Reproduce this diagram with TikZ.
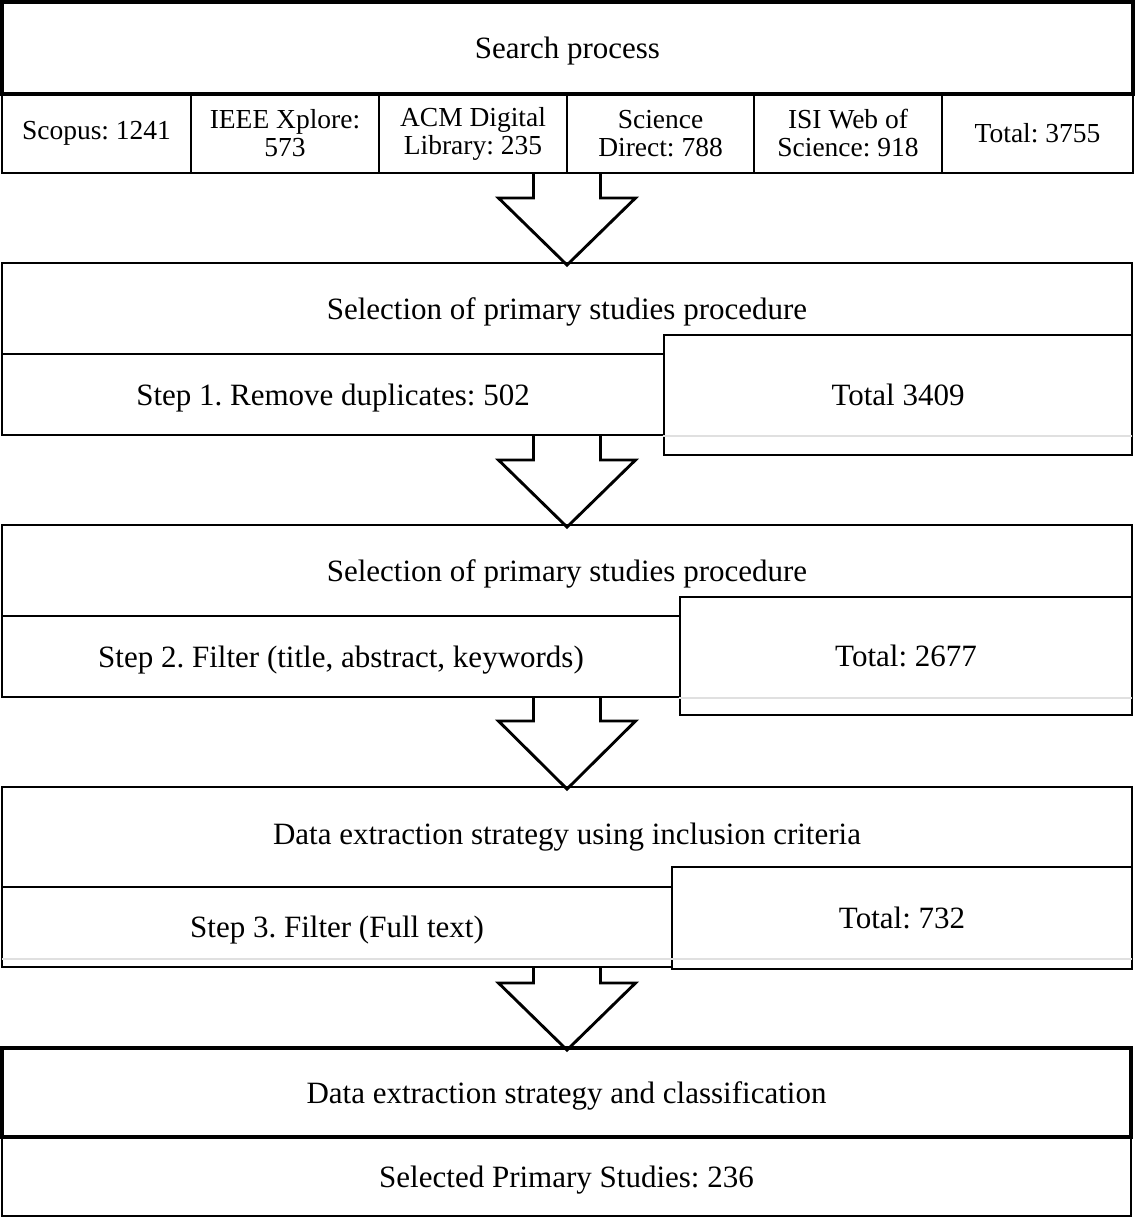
\documentclass[tikz,border=0pt]{standalone}
\usepackage{fontspec}
\setmainfont{Liberation Serif}
\usetikzlibrary{calc}
\frenchspacing
\newcommand{\mybig}{\fontsize{31}{34}\selectfont}
\newcommand{\mysmall}{\fontsize{27.5}{28}\selectfont}
% \rbox{name}{x1}{y1}{x2}{y2}{style}{text}
\newcommand{\rbox}[7]{\node[#6,minimum width={(#4)-(#2)},minimum height={(#5)-(#3)}] (#1) at ({((#2)+(#4))/2},{((#3)+(#5))/2}) {#7};}
% \barrow{start}{end}{shoulder depth}
\newcommand{\barrow}[3]{\draw[blockarrow] ($(#1)+(-33.5,0)$) -- ++(0,#3) -- ++(-35,0) -- ($(#2)+(0,2)$) -- ($(#1)+(68.5,#3)$) -- ++(-35,0) -- ($(#1)+(33.5,0)$);}
\begin{document}
\frenchspacing
\begin{tikzpicture}[x=1pt,y=-1pt,
  cell/.style={draw=black,line width=2.9pt,rectangle,inner sep=0pt,align=center,font=\mybig\frenchspacing},
  bigcell/.style={cell,text depth=0pt},
  subcell/.style={cell,font=\mysmall\frenchspacing},
  totbox/.style={cell,fill=white},
  blockarrow/.style={draw=black,fill=white,line width=2.9pt,line join=miter},
  faint/.style={draw=black!12,line width=2pt}]
\useasboundingbox (0,0) rectangle (1135,1222);
\fill[white] (0,0) rectangle (1135,1222);

% ---------- block arrows (drawn first, boxes on top) ----------
\coordinate (a1s) at (567,173);
\coordinate (a1e) at (567,263);
\coordinate (a2s) at (567,435);
\coordinate (a2e) at (567,525);
\coordinate (a3s) at (567,697);
\coordinate (a3e) at (567,787);
\coordinate (a4s) at (567,967);
\coordinate (a4e) at (567,1048);
\barrow{a1s}{a1e}{25}
\barrow{a2s}{a2e}{25}
\barrow{a3s}{a3e}{24}
\barrow{a4s}{a4e}{16}

% ---------- Box 1: search process ----------
\rbox{t1}{2}{2}{1133}{94}{bigcell,line width=3.3pt}{Search process}
\rbox{c1}{2}{94}{191}{173}{subcell}{Scopus: 1241}
\rbox{c2}{191}{94}{379}{173}{subcell}{IEEE Xplore:\\573}
\rbox{c3}{379}{94}{567}{173}{subcell}{ACM Digital\\Library: 235}
\rbox{c4}{567}{94}{754}{173}{subcell}{Science\\Direct: 788}
\rbox{c5}{754}{94}{942}{173}{subcell}{ISI Web of\\Science: 918}
\rbox{c6}{942}{94}{1133}{173}{subcell}{Total: 3755}

% ---------- Box 2 ----------
\rbox{t2}{2}{263}{1132}{354}{bigcell}{Selection of primary studies procedure}
\rbox{s1}{2}{354}{664}{435}{bigcell}{Step 1. Remove duplicates: 502}
\rbox{r1}{664}{335}{1132}{455}{totbox}{Total 3409}
\draw[faint] (r1.west |- s1.south) -- ([xshift=-1.5pt]r1.east |- s1.south);

% ---------- Box 3 ----------
\rbox{t3}{2}{525}{1132}{616}{bigcell}{Selection of primary studies procedure}
\rbox{s2}{2}{616}{680}{697}{bigcell}{Step 2. Filter (title, abstract, keywords)}
\rbox{r2}{680}{597}{1132}{715}{totbox}{Total: 2677}
\draw[faint] (r2.west |- s2.south) -- ([xshift=-1.5pt]r2.east |- s2.south);

% ---------- Box 4 ----------
\rbox{t4}{2}{787}{1132}{887}{cell}{Data extraction strategy using inclusion criteria}
\rbox{s3}{2}{887}{672}{967}{bigcell}{Step 3. Filter (Full text)}
\rbox{r3}{672}{867}{1132}{969}{totbox}{Total: 732}
\coordinate (g4) at ([yshift=9pt]s3.south west);
\draw[faint] ([xshift=1.5pt]g4) -- ([xshift=-1.5pt]r3.east |- g4);

% ---------- Box 5 ----------
\rbox{t5}{2}{1048}{1131}{1137}{bigcell,line width=3.2pt}{Data extraction strategy and classification}
\rbox{s4}{2}{1137}{1131}{1216}{bigcell}{Selected Primary Studies: 236}
\end{tikzpicture}
\end{document}
